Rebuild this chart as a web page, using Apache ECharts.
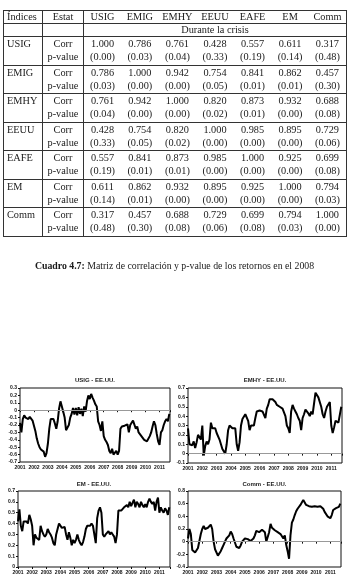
<!DOCTYPE html>
<html><head><meta charset="utf-8">
<script src="https://cdn.jsdelivr.net/npm/echarts@6/dist/echarts.min.js"></script>
<style>
html,body{margin:0;padding:0;background:#fff;width:349px;height:576px;overflow:hidden;}
#chart{position:absolute;left:0;top:0;width:349px;height:576px;}
#tbl{position:absolute;left:3px;top:10px;width:344px;z-index:2;}
table{border-collapse:collapse;width:344px;font-family:"Liberation Serif","Times New Roman",serif;font-size:10.3px;color:#1a1a1a;table-layout:fixed;border:1px solid #333;}
td{padding:0;white-space:nowrap;box-sizing:border-box;}
tr.h td{height:13px;line-height:12px;}
tr.r1 td{height:14px;line-height:14px;}
tr.r2 td{height:14px;line-height:12px;vertical-align:top;}
td.n{text-align:center;}
td.c1{text-align:left;padding-left:3px;border-right:1px solid #333;}
td.c2{text-align:center;border-right:1px solid #333;}
tr.hb td{border-bottom:1px solid #333;}
#cap{position:absolute;left:0;width:349px;top:260px;text-align:center;font-family:"Liberation Serif","Times New Roman",serif;font-size:9.8px;color:#1a1a1a;z-index:2;}
</style></head>
<body>
<div id="chart"></div>
<div id="tbl"></div>
<div id="cap"></div>
<script>
// ---------- table data ----------
const indices = ["USIG","EMIG","EMHY","EEUU","EAFE","EM","Comm"];
const headerCols = ["Índices","Estat","USIG","EMIG","EMHY","EEUU","EAFE","EM","Comm"];
const subHeader = "Durante la crisis";
const corrRows = [
  ["1.000","0.786","0.761","0.428","0.557","0.611","0.317"],
  ["0.786","1.000","0.942","0.754","0.841","0.862","0.457"],
  ["0.761","0.942","1.000","0.820","0.873","0.932","0.688"],
  ["0.428","0.754","0.820","1.000","0.985","0.895","0.729"],
  ["0.557","0.841","0.873","0.985","1.000","0.925","0.699"],
  ["0.611","0.862","0.932","0.895","0.925","1.000","0.794"],
  ["0.317","0.457","0.688","0.729","0.699","0.794","1.000"]
];
const pvalRows = [
  ["(0.00)","(0.03)","(0.04)","(0.33)","(0.19)","(0.14)","(0.48)"],
  ["(0.03)","(0.00)","(0.00)","(0.05)","(0.01)","(0.01)","(0.30)"],
  ["(0.04)","(0.00)","(0.00)","(0.02)","(0.01)","(0.00)","(0.08)"],
  ["(0.33)","(0.05)","(0.02)","(0.00)","(0.00)","(0.00)","(0.06)"],
  ["(0.19)","(0.01)","(0.01)","(0.00)","(0.00)","(0.00)","(0.08)"],
  ["(0.14)","(0.01)","(0.00)","(0.00)","(0.00)","(0.00)","(0.03)"],
  ["(0.48)","(0.30)","(0.08)","(0.06)","(0.08)","(0.03)","(0.00)"]
];
const captionBold = "Cuadro 4.7:";
const captionText = " Matriz de correlación y p-value de los retornos en el 2008";

// ---------- chart data (2001.0 to 2011.7, every 0.1 year) ----------
const chartTitles = ["USIG - EE.UU.","EMHY - EE.UU.","EM - EE.UU.","Comm - EE.UU."];
const xYearLabels = [2001,2002,2003,2004,2005,2006,2007,2008,2009,2010,2011];
const usig = [
 -0.17,-0.30,-0.12,-0.07,-0.10,-0.08,-0.12,-0.09,-0.10,-0.14,
 -0.15,-0.28,-0.38,-0.45,-0.50,-0.53,-0.55,-0.56,-0.63,-0.58,
 -0.45,-0.25,-0.12,-0.10,-0.12,-0.18,-0.25,-0.15,0.02,0.12,
 0.10,-0.02,-0.10,-0.27,-0.25,-0.20,-0.10,-0.05,0.03,-0.06,
 0.03,-0.07,0.04,-0.05,0.02,-0.08,0.05,-0.02,0.12,0.20,
 0.15,0.22,0.17,0.13,0.08,0.05,-0.15,-0.20,-0.28,-0.15,
 -0.35,-0.40,-0.43,-0.47,-0.55,-0.58,-0.52,-0.60,-0.62,-0.55,
 -0.60,-0.55,-0.25,-0.22,-0.24,-0.21,-0.23,-0.19,-0.30,-0.20,
 -0.18,-0.14,-0.16,-0.25,-0.22,-0.30,-0.28,-0.35,-0.33,-0.40,
 -0.38,-0.42,-0.40,-0.35,-0.30,-0.22,-0.15,-0.20,-0.32,-0.42,
 -0.47,-0.30,-0.27,-0.20,-0.15,-0.12,-0.15,-0.05
];
const emhy = [
 0.27,0.10,0.12,0.09,0.13,0.06,0.12,0.20,0.22,0.15,
 0.30,-0.02,0.08,0.13,0.10,0.15,0.33,0.27,0.25,0.27,
 0.22,0.20,0.15,0.10,0.05,0.03,0.00,0.10,0.25,0.30,
 0.28,0.27,0.25,0.27,0.10,0.03,0.12,0.30,0.37,0.38,
 0.42,0.43,0.35,0.25,0.30,0.28,0.30,0.38,0.45,0.47,
 0.46,0.48,0.45,0.46,0.38,0.48,0.52,0.58,0.57,0.58,
 0.60,0.55,0.52,0.53,0.50,0.49,0.48,0.47,0.40,0.30,
 0.27,0.22,0.45,0.52,0.48,0.45,0.42,0.38,0.35,0.25,
 0.38,0.42,0.47,0.48,0.43,0.40,0.45,0.42,0.40,0.65,
 0.63,0.60,0.58,0.50,0.42,0.38,0.45,0.50,0.48,0.55,
 0.30,0.22,0.28,0.35,0.36,0.33,0.32,0.50
];
const em = [
 0.42,0.53,0.38,0.33,0.42,0.43,0.42,0.40,0.48,0.44,
 0.38,0.20,0.30,0.27,0.28,0.25,0.38,0.33,0.30,0.28,
 0.30,0.35,0.32,0.30,0.27,0.22,0.20,0.30,0.35,0.40,
 0.39,0.36,0.35,0.37,0.30,0.25,0.32,0.27,0.20,0.25,
 0.22,0.25,0.30,0.25,0.22,0.20,0.23,0.28,0.35,0.38,
 0.39,0.38,0.40,0.38,0.39,0.22,0.45,0.52,0.55,0.50,
 0.30,0.28,0.30,0.31,0.33,0.30,0.32,0.30,0.28,0.22,
 0.30,0.52,0.53,0.52,0.53,0.55,0.54,0.57,0.55,0.60,
 0.56,0.59,0.62,0.55,0.60,0.58,0.55,0.60,0.57,0.55,
 0.58,0.55,0.60,0.63,0.60,0.58,0.60,0.52,0.60,0.64,
 0.50,0.55,0.52,0.50,0.54,0.52,0.48,0.55
];
const comm = [
 0.05,0.20,0.12,-0.13,-0.16,-0.17,-0.15,-0.10,-0.08,0.12,
 0.20,0.25,0.20,0.23,0.22,0.25,0.27,0.20,0.00,-0.12,
 -0.15,-0.22,-0.25,-0.15,-0.10,-0.05,0.00,0.05,0.08,0.10,
 0.16,0.12,0.05,0.03,-0.08,-0.05,-0.10,-0.06,0.00,0.02,
 0.05,0.08,0.04,0.02,0.01,0.03,0.05,0.10,0.17,0.18,
 0.15,0.18,0.19,0.20,0.15,0.00,-0.03,0.15,0.28,0.22,
 0.20,0.18,0.20,0.15,0.17,0.12,0.10,0.05,0.10,-0.05,
 -0.15,-0.27,0.10,0.30,0.35,0.42,0.48,0.52,0.55,0.58,
 0.60,0.66,0.62,0.58,0.60,0.56,0.58,0.55,0.57,0.56,
 0.58,0.55,0.57,0.56,0.57,0.52,0.47,0.45,0.40,0.38,
 0.37,0.42,0.50,0.52,0.53,0.52,0.55,0.60
];
const yAxisRanges = [[-0.7,0.3,0.1],[-0.1,0.7,0.1],[0,0.7,0.1],[-0.4,0.8,0.2]];

// ---------- build table ----------
(function(){
  let h = '<table><colgroup><col style="width:39px"><col style="width:41px">';
  for(let i=0;i<7;i++) h += '<col>';
  h += '</colgroup>';
  h += '<tr class="h hb">';
  headerCols.forEach((c,i)=>{
    const cls = i===0?'c1':(i===1?'c2':'n');
    h += '<td class="'+cls+'">'+c+'</td>';
  });
  h += '</tr>';
  h += '<tr class="h hb"><td class="c1"></td><td class="c2"></td><td class="n" colspan="7">'+subHeader+'</td></tr>';
  indices.forEach((name,r)=>{
    h += '<tr class="r1"><td class="c1">'+name+'</td><td class="c2">Corr</td>';
    corrRows[r].forEach(v=>{h+='<td class="n">'+v+'</td>';});
    h += '</tr><tr class="r2 hb"><td class="c1"></td><td class="c2">p-value</td>';
    pvalRows[r].forEach(v=>{h+='<td class="n">'+v+'</td>';});
    h += '</tr>';
  });
  h += '</table>';
  document.getElementById('tbl').innerHTML = h;
  document.getElementById('cap').innerHTML = '<b>'+captionBold+'</b>'+captionText;
})();

// ---------- charts ----------
const years = usig.map((_,i)=>Math.round((2001+i*0.1)*10)/10);
const seriesVals = [usig, emhy, em, comm];
const grids = [
  {left:20, top:388, width:150, height:74},
  {left:188, top:388, width:154, height:75},
  {left:18, top:491, width:152, height:76},
  {left:188, top:491, width:153, height:76}
];
const titleTops = [377, 377, 481, 481];
const font = '"Liberation Sans", Arial, sans-serif';
const chart = echarts.init(document.getElementById('chart'), null, {renderer:'canvas'});
const option = {
  animation:false,
  title: chartTitles.map((t,i)=>({
    text:t, left: grids[i].left + grids[i].width/2, top: titleTops[i], textAlign:'center', padding:0,
    textStyle:{fontSize:6, fontWeight:'bold', color:'#222', fontFamily:font}
  })),
  grid: grids.map(g=>Object.assign({show:true, borderColor:'#111', borderWidth:1, backgroundColor:'rgba(0,0,0,0)'}, g)),
  xAxis: grids.map((g,i)=>({
    type:'value', gridIndex:i, min:2001, max:2011.75, interval:1,
    axisLine:{show:false}, splitLine:{show:false},
    axisTick:{show:true, length:2, lineStyle:{color:'#111'}},
    axisLabel:{fontSize:5, color:'#111', margin:3, fontWeight:'bold', fontFamily:font,
      formatter:v=> (xYearLabels.indexOf(Math.round(v))>=0 && Math.abs(v-Math.round(v))<1e-6) ? String(Math.round(v)) : ''}
  })),
  yAxis: yAxisRanges.map((r,i)=>({
    type:'value', gridIndex:i, min:r[0], max:r[1], interval:r[2],
    axisLine:{show:false}, splitLine:{show:false},
    axisTick:{show:true, length:2, lineStyle:{color:'#111'}},
    axisLabel:{fontSize:5, color:'#111', margin:3, fontWeight:'bold', fontFamily:font,
      formatter:v=>{const x=Math.round(v*10)/10; return x===0?'0':x.toFixed(1);}}
  })),
  series: seriesVals.map((vals,i)=>({
    type:'line', xAxisIndex:i, yAxisIndex:i, showSymbol:false, symbol:'none',
    data: vals.map((v,k)=>[years[k], v]),
    lineStyle:{color:'#000', width:2},
    markLine: yAxisRanges[i][0] < 0 ? {silent:true, symbol:'none', label:{show:false},
      lineStyle:{color:'#999', width:1, type:'solid'}, data:[{yAxis:0}]} : undefined,
    z: 3
  }))
};
chart.setOption(option);
</script>
</body></html>
